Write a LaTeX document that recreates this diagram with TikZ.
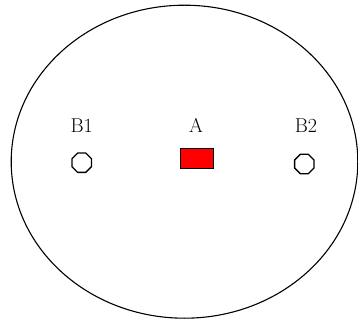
\documentclass[tikz,border=0pt]{standalone}
\usepackage{tikz}
\usetikzlibrary{shapes.geometric}

\begin{document}
\begin{tikzpicture}[x=1pt,y=-1pt,
  lbl/.style={anchor=base,font=\fontsize{20}{24}\selectfont},
  hole/.style={draw,line width=1.3pt,regular polygon,regular polygon sides=8,minimum size=21pt,inner sep=0pt},
  box/.style={draw,fill=red,line width=1.3pt,minimum width=33pt,minimum height=20pt,inner sep=0pt}]
\useasboundingbox (0,0) rectangle (358,320);
\coordinate (O) at (184.5,161.7);
\draw[line width=1.1pt] (O) ellipse [x radius=173.3pt, y radius=156.5pt];
\node[hole] (B1) at (81.7,162.7) {}; \node[hole] (B2) at (304.3,164) {};
\node[box] (A) at (197,158.7) {};
\node[lbl] (lB1) at (81.7,132.3) {B1}; \node[lbl] (lA) at (196,132.3) {A}; \node[lbl] (lB2) at (306,132.3) {B2};
\end{tikzpicture}
\end{document}
